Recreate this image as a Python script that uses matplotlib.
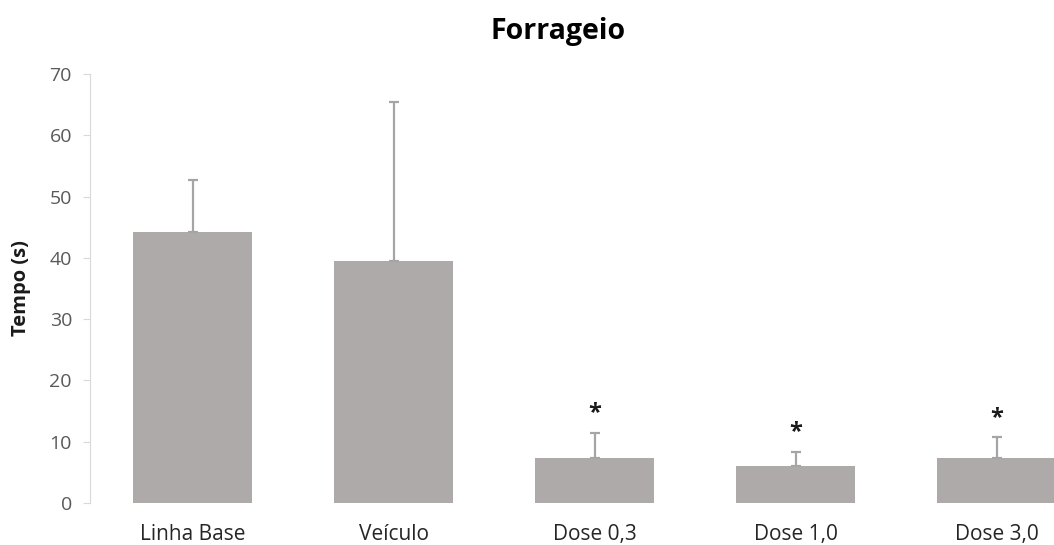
import matplotlib.pyplot as plt
import numpy as np

plt.rcParams['font.family'] = ['Open Sans', 'DejaVu Sans']

# Dados: tempo médio de forrageio (s) e erro padrão (somente para cima)
grupos = ['Linha Base', 'Veículo', 'Dose 0,3', 'Dose 1,0', 'Dose 3,0']
medias = [44.3, 39.5, 7.3, 6.1, 7.3]
erros = [8.4, 26.0, 4.2, 2.3, 3.4]
signif = [False, False, True, True, True]

x = np.arange(len(grupos))
cor_barra = '#aeaaaa'
cinza_eixo = '#d9d9d9'
cinza_texto = '#595959'

fig = plt.figure(figsize=(10.54, 5.45), dpi=100)
ax = fig.add_axes([90/1054, 42/545, 964/1054, 429/545])

ax.bar(x, medias, width=0.59, color=cor_barra, zorder=2)
ax.errorbar(x, medias, yerr=[np.zeros(len(medias)), erros], fmt='none',
            ecolor='#a5a5a5', elinewidth=1.6, capsize=3.6, capthick=1.6, zorder=3)

# asteriscos de significância acima das barras de erro
for xi, m, e, s in zip(x, medias, erros, signif):
    if s:
        ax.annotate('*', xy=(xi, m + e), xytext=(0, 5), textcoords='offset points',
                    ha='center', va='bottom', fontsize=17, fontweight='bold',
                    color='#1a1a1a')

ax.set_xlim(-0.51, -0.51 + 964/201)
ax.set_ylim(0, 70)
ax.set_yticks(np.arange(0, 71, 10))
ax.set_xticks(x)
ax.set_xticklabels(grupos)

for lado in ['top', 'right', 'bottom']:
    ax.spines[lado].set_visible(False)
ax.spines['left'].set_color(cinza_eixo)
ax.tick_params(axis='y', colors=cinza_eixo, labelcolor=cinza_texto, length=5,
               labelsize=14, pad=8)
ax.tick_params(axis='x', length=0, labelcolor='#262626', labelsize=15, pad=15)

ax.set_ylabel('Tempo (s)', fontsize=14.5, fontweight='bold', color='#1a1a1a', labelpad=13)
fig.text(558/1054, 1 - 32/545, 'Forrageio', ha='center', va='center',
         fontsize=20.5, fontweight='bold', color='black')

fig.savefig('out.png', dpi=100)
